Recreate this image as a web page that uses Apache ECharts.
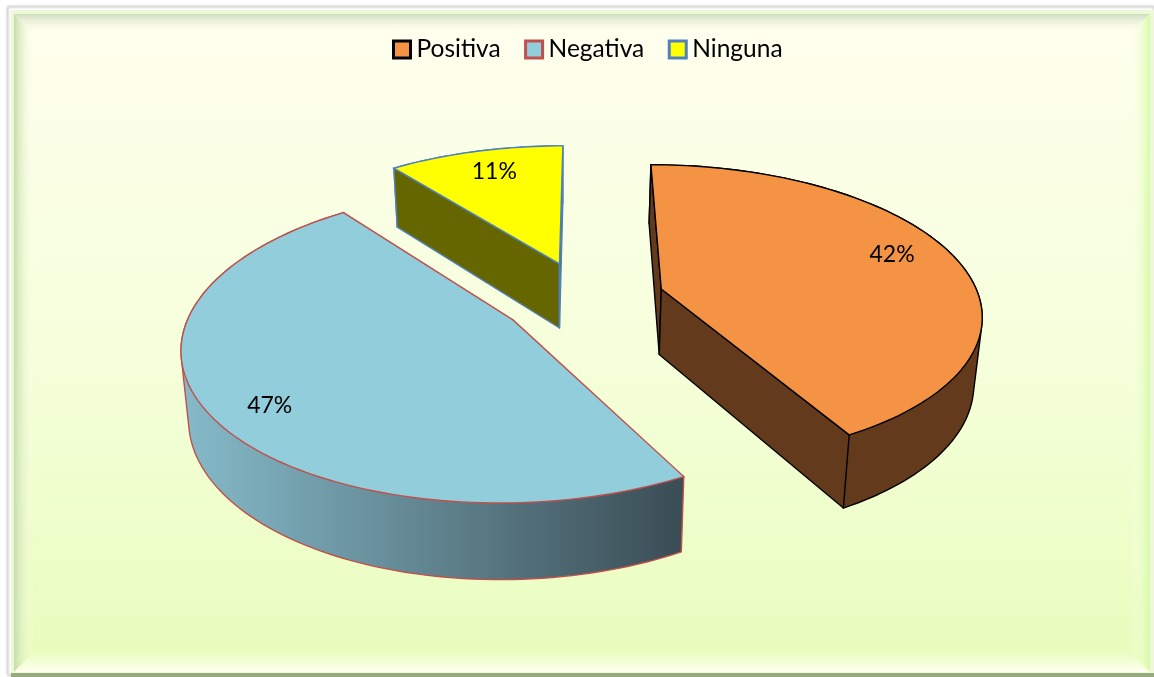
<!DOCTYPE html>
<html><head><meta charset="utf-8">
<style>html,body{margin:0;padding:0;background:#fff}#c{width:1154px;height:677px}</style>
<script src="https://cdn.jsdelivr.net/npm/echarts@6/dist/echarts.min.js"></script>
</head><body><div id="c"></div>
<script>
const categories = ['Positiva', 'Negativa', 'Ninguna'];
const values = [42, 47.45, 10.55];
const topColors = ['#F59345', '#92CDDC', '#FFFF00'];
const edgeColors = ['#000000', '#C0504D', '#4F81BD'];
const sideColors = ['#633A1C',
  {type:'linear',x:0,y:0,x2:1,y2:0,colorStops:[{offset:0,color:'#86BBCA'},{offset:1,color:'#3A4C54'}]},
  '#666600'];
const explodes = [0.25, 0.265, 0.256];
const labelShift = [-3.5, -4, 1], labelRadius = [0.81, 0.84, 0.8];
const startAngle = 0;
const cx = 585, cy = 298, rx = 318, ry = 146.5, persp = 0.158, wallH = 66;
const total = values.reduce((a,b)=>a+b,0);
const rad = d => d*Math.PI/180;
function proj(u,v){const w=1+persp*v;return {x:cx+rx*u/w,y:cy-ry*v/w,w};}
function top3(p){return [p.x,p.y];}
function bot3(p){return [p.x-(p.x-560)*0.02,p.y+wallH*Math.pow(p.w,-0.75)];}
function hull(pts){
  const s=pts.slice().sort((a,b)=>a[0]-b[0]||a[1]-b[1]);
  const cr=(o,a,b)=>(a[0]-o[0])*(b[1]-o[1])-(a[1]-o[1])*(b[0]-o[0]);
  const lo=[],up=[];
  for(const p of s){while(lo.length>1&&cr(lo[lo.length-2],lo[lo.length-1],p)<=0)lo.pop();lo.push(p);}
  for(const p of s.slice().reverse()){while(up.length>1&&cr(up[up.length-2],up[up.length-1],p)<=0)up.pop();up.push(p);}
  return lo.slice(0,-1).concat(up.slice(0,-1));
}
function makeSlice(idx){
  return function(params,api){
    const val=api.value(0);
    let a0=startAngle;for(let i=0;i<idx;i++)a0+=values[i]/total*360;
    const a1=a0+val/total*360, mid=rad((a0+a1)/2);
    const eu=explodes[idx]*Math.sin(mid), ev=explodes[idx]*Math.cos(mid);
    const apex=proj(eu,ev);
    const arc=[];const steps=Math.max(8,Math.round((a1-a0)/1.5));
    for(let i=0;i<=steps;i++){const t=rad(a0+(a1-a0)*i/steps);arc.push(proj(eu+Math.sin(t),ev+Math.cos(t)));}
    const face=pts=>({type:'polygon',shape:{points:pts},silent:true,
      style:{fill:sideColors[idx],stroke:edgeColors[idx],lineWidth:1.4,lineJoin:'round'}});
    const first=arc[0],last=arc[arc.length-1],midArc=arc[Math.floor(arc.length/2)];
    const visible=p=>{
      const ex=p.x-apex.x,ey=p.y-apex.y;
      const side=(qx,qy)=>ex*(qy-apex.y)-ey*(qx-apex.x);
      const mx=(p.x+apex.x)/2,my=(p.y+apex.y)/2;
      return side(mx,my+1)*side(midArc.x,midArc.y)<0;
    };
    const kids=[face(hull(arc.map(top3).concat(arc.map(bot3))))];
    [first,last].forEach(p=>{if(visible(p))kids.push(face([top3(apex),top3(p),bot3(p),bot3(apex)]));});
    kids.push({type:'polygon',shape:{points:[top3(apex)].concat(arc.map(top3))},silent:true,
      style:{fill:topColors[idx],stroke:edgeColors[idx],lineWidth:1.4,lineJoin:'miter'}});
    const la=mid+rad(labelShift[idx]),lr=labelRadius[idx];
    const lp=proj(eu+lr*Math.sin(la),ev+lr*Math.cos(la));
    kids.push({type:'text',x:lp.x,y:lp.y,silent:true,z2:10,style:{text:Math.round(val/total*100)+'%',
      fill:'#000',font:'23px Lato',align:'center',verticalAlign:'middle'}});
    return {type:'group',children:kids};
  };
}
const L=14,T=14,R=1150,B=672,BW=20;
function bevel(pts,x,y,x2,y2,stops){return {type:'polygon',silent:true,z:-5,shape:{points:pts},
  style:{fill:{type:'linear',x,y,x2,y2,colorStops:stops.map((c,i)=>({offset:i/(stops.length-1),color:c}))}}};}
const chart=echarts.init(document.getElementById('c'),null,{renderer:'canvas'});
chart.setOption({
  animation:false,
  backgroundColor:'#fff',
  graphic:{elements:[
    {type:'rect',silent:true,z:-10,shape:{x:8,y:7,width:1146,height:668},style:{fill:'#fff',stroke:'#dcdcd4',lineWidth:1,shadowColor:'rgba(0,0,0,.25)',shadowBlur:3}},
    {type:'rect',silent:true,z:-9,shape:{x:11,y:10,width:1143,height:665},style:{fill:'#EEF7D8'}},
    {type:'rect',silent:true,z:-8,shape:{x:L,y:T,width:R-L,height:B-T},style:{fill:{type:'linear',x:0,y:0,x2:0,y2:1,colorStops:[{offset:0,color:'#FFFFEE'},{offset:.5,color:'#F6FFDC'},{offset:1,color:'#E8FDBC'}]}}},
    bevel([[L,T],[R,T],[R-BW,T+BW],[L+BW,T+BW]],0,0,0,1,['#CFDDC0','rgba(255,255,238,0)']),
    bevel([[L,T],[L+BW,T+BW],[L+BW,B-BW],[L,B]],0,0,1,0,['#C5DDA8','rgba(255,255,238,0)']),
    bevel([[R,T],[R,B],[R-BW,B-BW],[R-BW,T+BW]],1,0,0,0,['#D6FBA8','rgba(255,255,238,0)']),
    bevel([[L,B],[R,B],[R-BW,B-BW],[L+BW,B-BW]],0,1,0,0,['#FFFFF0','rgba(255,255,240,0)']),
    {type:'rect',silent:true,z:-4,shape:{x:11,y:673,width:1143,height:4},style:{fill:'#97AC7E'}}
  ]},
  legend:{
    top:37,left:392,padding:0,itemGap:23.5,itemWidth:17,itemHeight:17,selectedMode:false,
    textStyle:{fontFamily:'Lato',fontSize:24.5,color:'#000',padding:[0,0,0,1]},
    data:categories.map((n,i)=>({name:n,icon:'rect',itemStyle:{color:topColors[i],borderColor:edgeColors[i],borderWidth:3}}))
  },
  series:categories.map((n,i)=>({
    name:n,type:'custom',coordinateSystem:'none',z:2+i,silent:true,
    data:[[values[i]]],renderItem:makeSlice(i)
  }))
});
</script></body></html>
